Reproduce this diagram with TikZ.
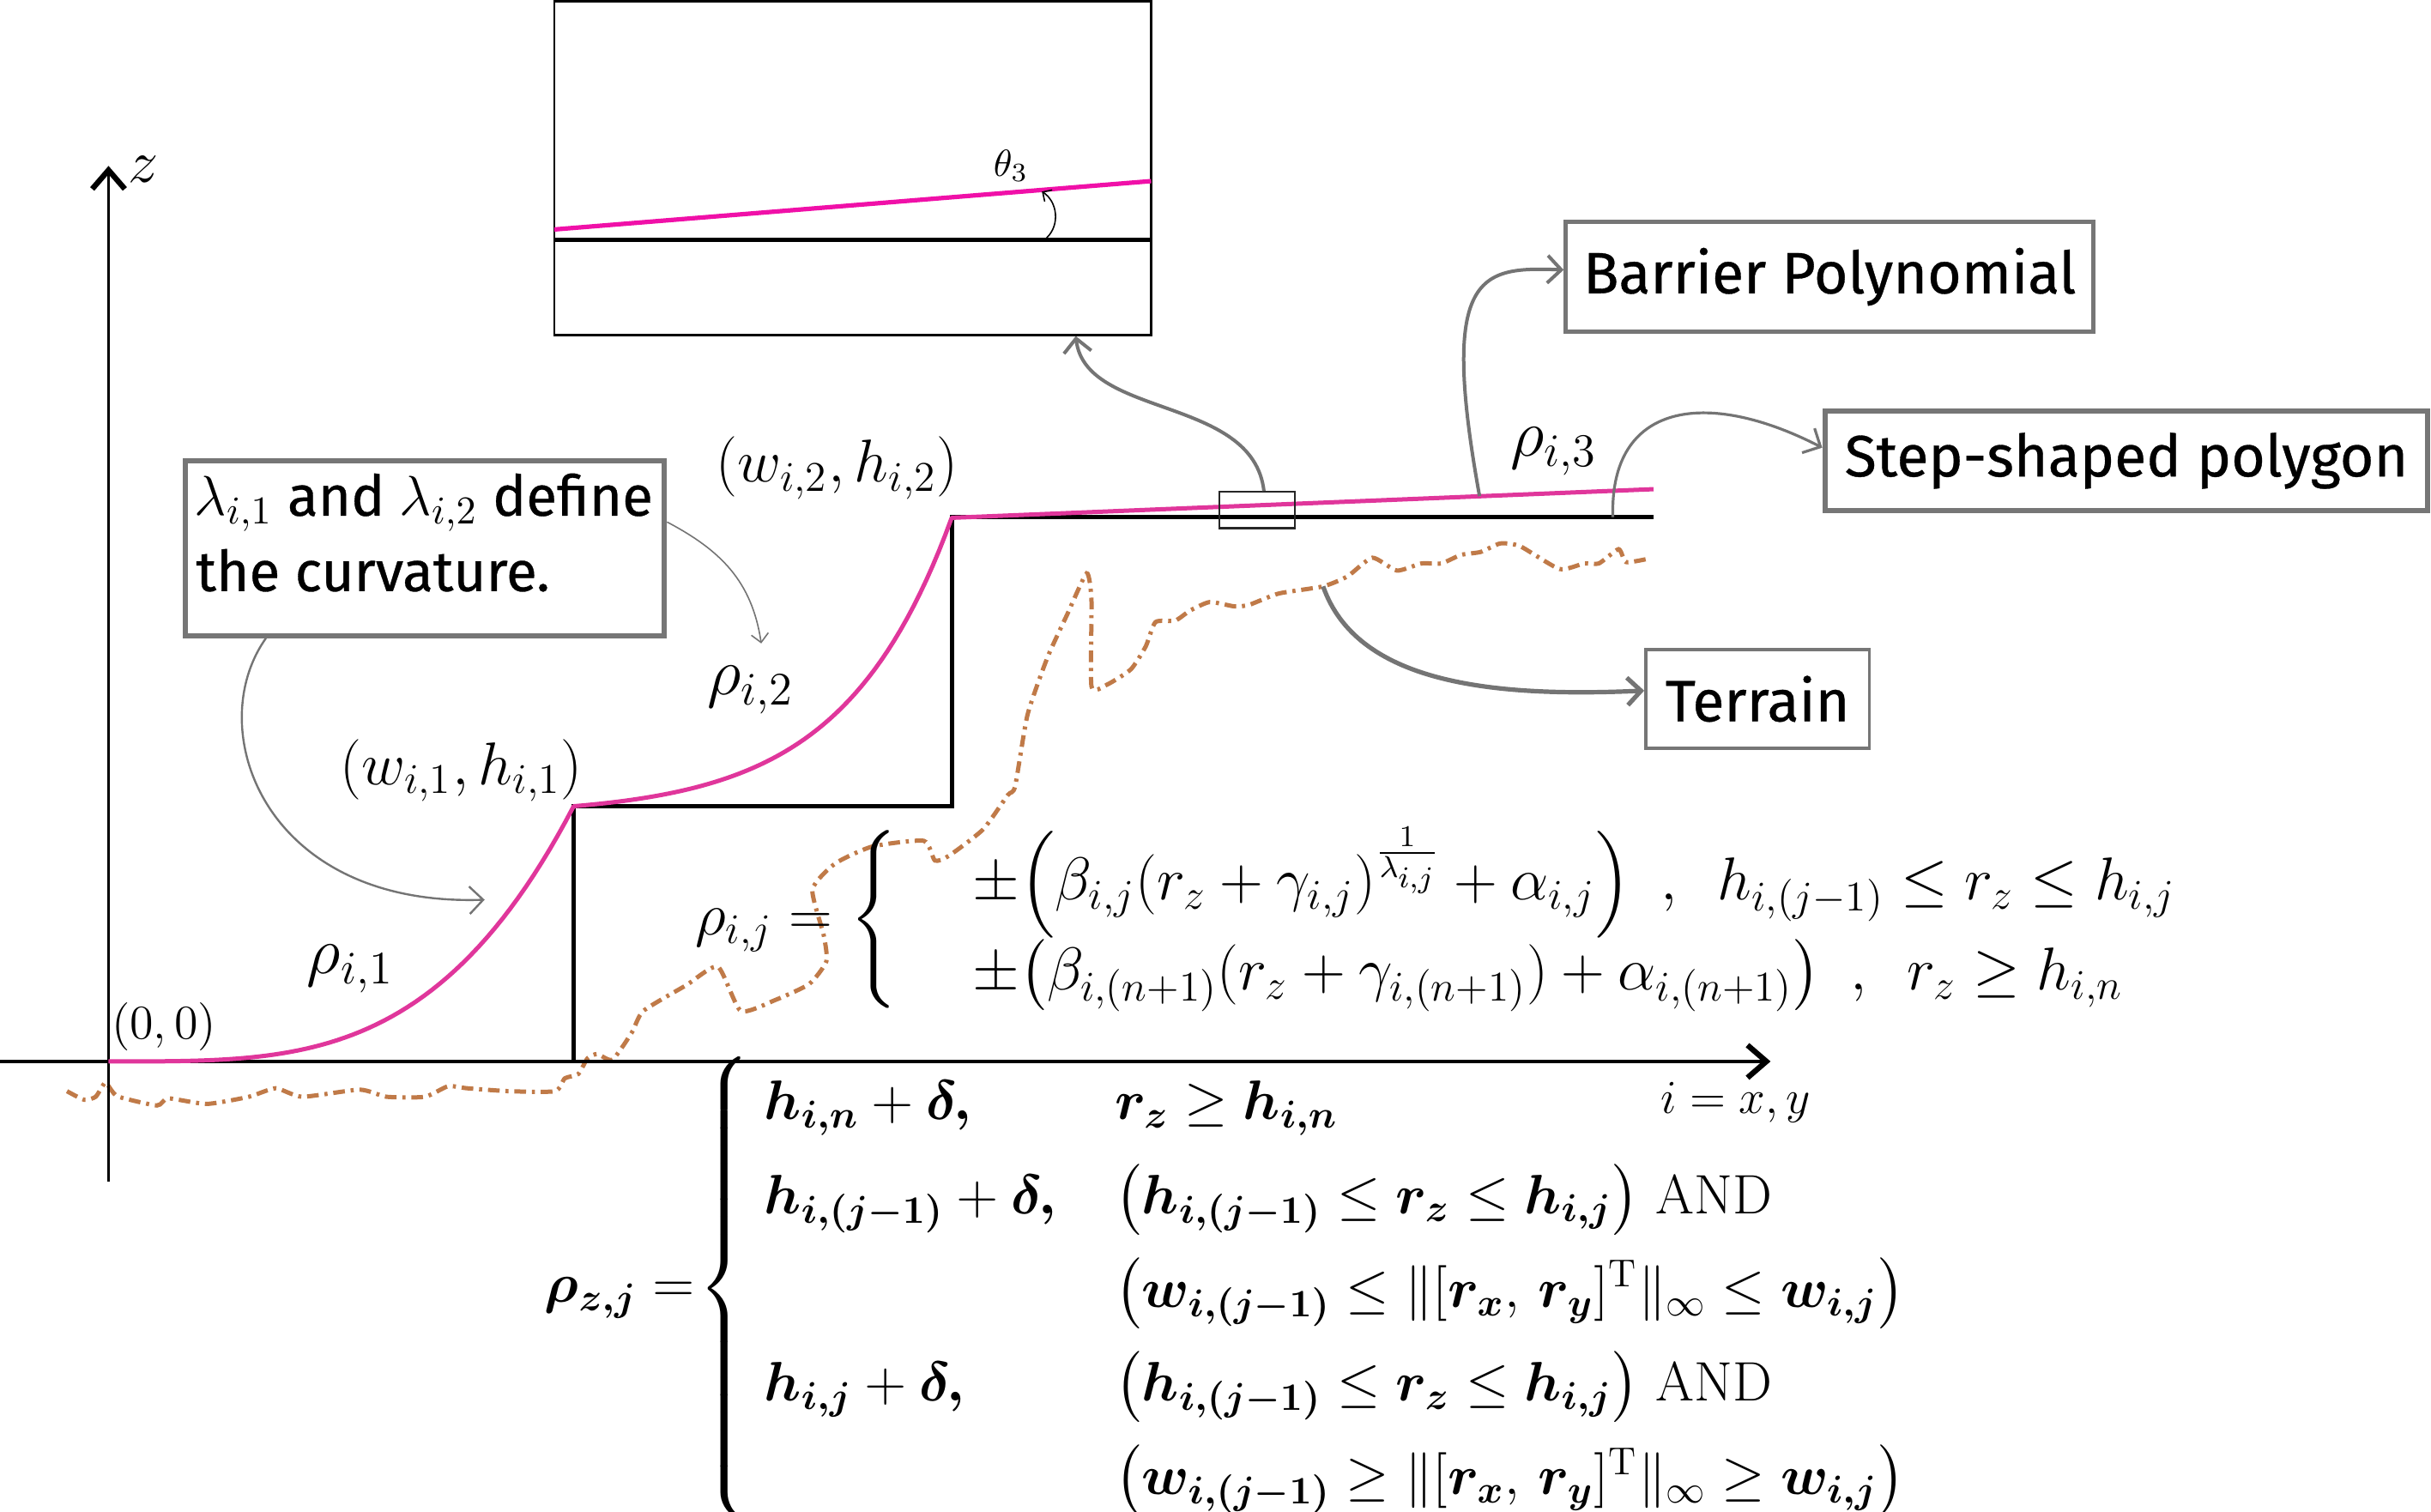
\RequirePackage{fix-cm}
\documentclass[tikz,border=0pt]{standalone}
\usepackage{amsmath}
\usepackage{fontspec}
\newfontfamily\boxfont[FakeBold=0.5]{Fira Sans}
\usetikzlibrary{arrows.meta}

\definecolor{mag}{HTML}{E0369B}
\definecolor{magB}{HTML}{F010A8}
\definecolor{terr}{HTML}{C07A48}
\definecolor{arrg}{HTML}{747474}
\definecolor{boxg}{HTML}{767676}

\newcommand\bs[1]{\boldsymbol{#1}}

\newcommand\eqAtext{$\rho_{i,j} = \Biggl\{\begin{array}{@{\hspace{22pt}}l@{}}
\pm\Bigl(\beta_{i,j}(r_z+\gamma_{i,j})^{\frac{1}{\lambda_{i,j}}}+\alpha_{i,j}\Bigr)\enspace,\enspace h_{i,(j-1)}\le r_z\le h_{i,j}\\
\pm\bigl(\beta_{i,(n+1)}(r_z+\gamma_{i,(n+1)})+\alpha_{i,(n+1)}\bigr)\enspace,\enspace r_z\ge h_{i,n}
\end{array}$}

\newcommand\eqBtext{{\fontsize{16.2}{21}\selectfont\renewcommand\arraystretch{1.3}$\bs{\rho_{z,j}} =\mskip-4mu \left\{\begin{array}{@{\hspace{4pt}}l@{\hspace{17pt}}l@{}}
\bs{h_{i,n}}+\bs{\delta,} & \bs{r_z}\ge \bs{h_{i,n}}\\
\bs{h_{i,(j-1)}}+\bs{\delta,} & \bigl(\bs{h_{i,(j-1)}}\le \bs{r_z}\le \bs{h_{i,j}}\bigr)\ \text{AND}\\
 & \bigl(\bs{w_{i,(j-1)}}\le \|[\bs{r_x},\, \bs{r_y}]^{\mathrm{T}}\|_\infty\le \bs{w_{i,j}}\bigr)\\
\bs{h_{i,j}}+\bs{\delta,} & \bigl(\bs{h_{i,(j-1)}}\le \bs{r_z}\le \bs{h_{i,j}}\bigr)\ \text{AND}\\
 & \bigl(\bs{w_{i,(j-1)}}\ge \|[\bs{r_x},\, \bs{r_y}]^{\mathrm{T}}\|_\infty\ge \bs{w_{i,j}}\bigr)
\end{array}\right.$}}

\tikzset{
 lbl/.style={inner sep=0pt},
 gbox/.style={draw=boxg, rectangle, inner sep=0pt, font=\boxfont\fontsize{17}{22}\selectfont},
 boxtext/.style={inner sep=0pt, font=\boxfont\fontsize{16.4}{22}\selectfont},
 garrow/.style={draw=arrg, -{Straight Barb[length=4pt,width=8pt]}},
 axisline/.style={line width=1.1pt, -{Straight Barb[length=5.5pt,width=9.5pt,line width=1.6pt]}},
 terrainline/.style={terr, line width=1.25pt, dash pattern=on 3.4pt off 1.7pt on 0.9pt off 1.7pt},
 rholbl/.style={inner sep=0pt, font=\fontsize{19.4}{23}\selectfont},
}

\begin{document}
\begin{tikzpicture}[x=0.4518pt,y=-0.4518pt, font=\fontsize{17.6}{21}\selectfont]
\useasboundingbox (0,0) rectangle (1568,975);

% terrain
\draw[terrainline] plot[smooth, tension=0.35] coordinates {
(43.2,703.8) (54.2,709.3) (61.7,707.4) (67.8,698.2) (71.6,702.8) (76.5,707.4)
(101.2,713) (108.5,708.4) (133.4,712) (160.5,707.4) (177.8,701.9) (195,707.4)
(232,702.8) (249.4,707.4) (274,707.4) (289,700.6) (301.3,701.9) (328.5,703.8)
(358,703.8) (364.3,695.5) (373,692.7) (379,682.5) (385.3,679.8) (395,683.5)
(407.5,666) (415,652) (442.7,635.4) (463,623.5) (477.8,652) (500,645)
(522,634.6) (533,620) (531.3,603.2) (524,573.7) (538.6,557) (562.6,546)
(595.8,542.3) (603,555) (612,552) (634,535) (650,512.8) (654.7,507.3)
(662.7,461.2) (675.5,424.3) (688.2,396.6) (700.9,369.8) (704,387.4) (704,442.7)
(713.6,441.8) (729.4,431.7) (739,416.9) (745.3,401.2) (758,400.3) (767.6,393.8)
(780.3,388.3) (796.2,391.1) (805.7,390.1) (824.8,382.8) (853.4,378.2) (869.2,371.7)
(885.1,359.7) (901,368) (916.9,363.4) (929.6,363.4) (942.3,357.9) (955,356)
(967.7,350.5) (980.5,352.3) (1005.9,367) (1021.7,363.4) (1031.3,363.4) (1044,354.2)
(1048.7,362.5) (1061.5,360.7)};
\coordinate (tpt) at (853.4,378.2);

% axes
\coordinate (xo) at (0,684.6);
\coordinate (xe) at (1142,684.6);
\coordinate (zb) at (70,762);
\coordinate (ze) at (70,107);
\draw[axisline] (xo) -- (xe);
\draw[axisline, line width=0.7pt] (zb) -- (ze);

% step-shaped polygon
\draw[line width=1.2pt] (370,684.6) -- (370,520) -- (614,520) -- (614,333.5) -- (1066.5,333.5);
\coordinate (sp) at (1040.3,333.5);

% barrier polynomial
\draw[mag, line width=1.25pt, line join=round]
  plot[domain=0:1,samples=60] ({70+300*\x},{684.6-164.6*\x*\x*\x*sqrt(\x)})
  -- plot[domain=0:1,samples=60] ({370+244*\x},{520-186.5*(exp(3.5*\x)-1)/32.115})
  -- (1066.5,315.5);
\coordinate (bp) at (954.3,320);

% zoom window
\node[draw=black!85, line width=0.6pt, minimum width=21.9pt, minimum height=10.6pt, inner sep=0pt] (sr) at (810.8,329) {};

% inset
\node[draw, line width=0.7pt, minimum width=173.9pt, minimum height=97.1pt, inner sep=0pt] (inset) at (550,108.5) {};
\draw[line width=1.4pt] (357.5,154.6) -- (742.5,154.6);
\draw[magB, line width=1.3pt] (357.5,148) -- (742.5,116.8);
\node[lbl, font=\fontsize{11}{13}\selectfont] (th) at (652,107) {$\theta_3$};
\draw[line width=0.4pt, -{Straight Barb[length=2pt,width=4pt]}] (675,153.5) .. controls (684,145) and (682,130) .. (672,123.5);

% boxes
\node[gbox, line width=1.5pt, minimum width=139.7pt, minimum height=51.05pt] (lam) at (274,353.5) {};
\node[boxtext, anchor=base west] (lamA) at (125,332.6) {$\lambda_{i,1}$ and $\lambda_{i,2}$ define};
\node[boxtext, anchor=base west] (lamB) at (126,381.2) {the curvature.};
\node[gbox, line width=1.3pt, minimum width=153.75pt, minimum height=32.08pt] (bar) at (1180.15,178.5) {Barrier Polynomial};
\node[gbox, line width=1.5pt, minimum width=175.75pt, minimum height=29.05pt] (stp) at (1371.5,297.15) {Step-shaped polygon};
\node[gbox, line width=0.9pt, minimum width=65.15pt, minimum height=28.7pt] (ter) at (1133.6,450.75) {Terrain};

% connectors
\coordinate (lr) at (491,415);
\coordinate (lb) at (312.6,580.3);
\draw[garrow, line width=1pt] ([xshift=2pt]sr.north) .. controls (808,255) and (700,270) .. ([xshift=65pt]inset.south);
\draw[garrow, line width=1pt] (bp) .. controls (928,175) and (955,172) .. ([yshift=2pt]bar.west);
\draw[garrow, line width=0.8pt] (sp) .. controls (1038,260) and (1100,250) .. ([yshift=3.8pt]stp.west);
\draw[garrow, line width=1.3pt] (tpt) .. controls (875,440) and (960,450) .. ([yshift=2.4pt]ter.west);
\draw[draw=arrg, line width=0.4pt, -{Straight Barb[length=2.5pt,width=5pt]}] ([yshift=7.6pt]lam.east) .. controls (465,355) and (485,375) .. (lr);
\draw[garrow, line width=0.6pt] ([xshift=-46.3pt]lam.south) .. controls (130,470) and (170,585) .. (lb);

% labels
\node[lbl] (zl) at (92.5,109) {$z$};
\node[lbl, font=\fontsize{13.8}{16}\selectfont] (ixy) at (1119.5,711) {$i = x, y$};
\node[lbl, font=\fontsize{14}{16}\selectfont] (orig) at (105.8,662) {$(0,0)$};
\node[rholbl] (r1) at (226,625) {$\rho_{i,1}$};
\node[rholbl] (r2) at (484,445) {$\rho_{i,2}$};
\node[rholbl] (r3) at (1002,291) {$\rho_{i,3}$};
\node[lbl] (p1) at (297.6,497) {$(w_{i,1}, h_{i,1})$};
\node[lbl] (p2) at (540,302) {$(w_{i,2}, h_{i,2})$};

% equations
\node[lbl, anchor=west] (eqA) at (448,593) {\eqAtext};
\node[lbl, anchor=west] (eqB) at (351,831) {\eqBtext};
\end{tikzpicture}
\end{document}
